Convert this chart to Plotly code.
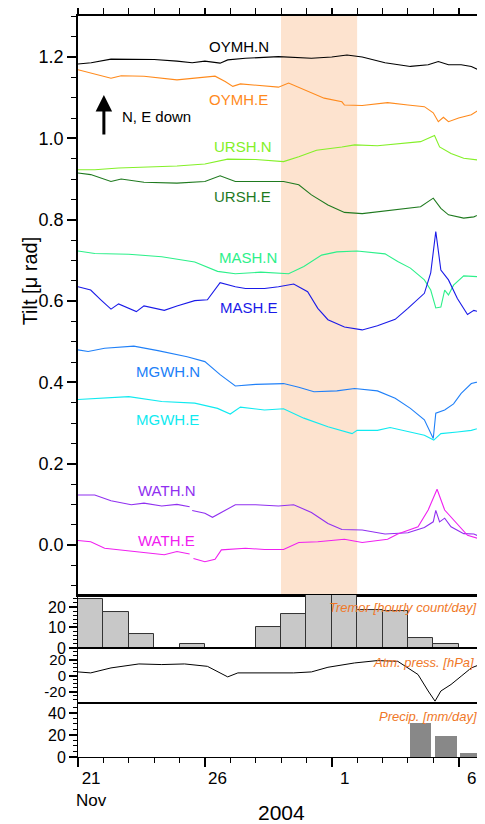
import plotly.graph_objects as go

# ---------------- data (x = days since 21 Nov 2004 00:00) ----------------
oymh_n_t = [0, 0.52, 1.3, 2, 3, 3.9, 4.5, 5, 5.6, 5.9, 6.6, 7.9, 9.2, 10, 10.6, 11.2, 12.1, 13.1, 13.8, 14.2, 14.6, 15.1, 15.5, 16]
oymh_n_v = [1.183, 1.186, 1.195, 1.194, 1.194, 1.19, 1.186, 1.19, 1.185, 1.193, 1.197, 1.201, 1.197, 1.2, 1.205, 1.2, 1.186, 1.177, 1.181, 1.189, 1.181, 1.181, 1.177, 1.162]

oymh_e_t = [0, 0.4, 0.8, 1.3, 1.7, 2.6, 3.9, 4.6, 5.4, 5.8, 6.1, 6.4, 7.2, 7.9, 8.3, 8.9, 9.7, 10.4, 10.5, 11.2, 12.2, 13, 13.65, 14, 14.2, 14.4, 14.6, 15, 15.5, 15.75, 16]
oymh_e_v = [1.169, 1.163, 1.156, 1.148, 1.154, 1.153, 1.144, 1.148, 1.153, 1.14, 1.128, 1.134, 1.13, 1.126, 1.136, 1.12, 1.099, 1.09, 1.082, 1.081, 1.088, 1.082, 1.078, 1.063, 1.041, 1.052, 1.041, 1.05, 1.058, 1.068, 1.069]

ursh_n_t = [0, 0.66, 1.6, 2.6, 3.9, 5, 5.9, 7, 8.1, 8.7, 9.4, 10.4, 10.9, 11.8, 12.6, 13.5, 14.05, 14.25, 14.7, 15.2, 16]
ursh_n_v = [0.923, 0.923, 0.927, 0.929, 0.932, 0.937, 0.949, 0.948, 0.943, 0.955, 0.971, 0.979, 0.984, 0.982, 0.986, 0.992, 1.007, 0.979, 0.963, 0.951, 0.945]

ursh_e_t = [0, 0.5, 1.3, 1.7, 2.6, 3.9, 5, 5.6, 6.2, 7.3, 8.1, 8.7, 9.2, 9.85, 10.5, 11.2, 12.5, 13.5, 14, 14.3, 14.6, 15.2, 15.6, 16]
ursh_e_v = [0.915, 0.911, 0.894, 0.9, 0.892, 0.89, 0.894, 0.908, 0.894, 0.894, 0.894, 0.886, 0.861, 0.836, 0.818, 0.815, 0.825, 0.832, 0.853, 0.828, 0.812, 0.804, 0.807, 0.818]

mash_n_t = [0, 0.66, 2, 3.3, 4.6, 5.5, 6.2, 7.2, 8.3, 8.9, 9.6, 10.2, 11, 12.1, 12.6, 13.1, 13.65, 13.9, 14.1, 14.3, 14.45, 14.6, 14.8, 15.2, 16]
mash_n_v = [0.723, 0.717, 0.715, 0.709, 0.696, 0.673, 0.667, 0.671, 0.667, 0.685, 0.713, 0.721, 0.723, 0.716, 0.697, 0.681, 0.652, 0.627, 0.583, 0.585, 0.627, 0.615, 0.639, 0.662, 0.659]

mash_e_t = [0, 0.5, 0.9, 1.3, 1.6, 2.3, 2.6, 3.4, 3.9, 4.6, 5.1, 5.6, 6.2, 6.6, 7.35, 7.9, 8.5, 9.05, 9.45, 9.85, 10.5, 11.2, 11.8, 12.5, 13, 13.65, 13.9, 14.1, 14.3, 14.6, 14.95, 15.35, 15.6, 16]
mash_e_v = [0.635, 0.627, 0.603, 0.58, 0.593, 0.574, 0.588, 0.577, 0.588, 0.601, 0.603, 0.645, 0.635, 0.631, 0.631, 0.635, 0.642, 0.623, 0.582, 0.554, 0.536, 0.529, 0.539, 0.555, 0.582, 0.619, 0.669, 0.771, 0.676, 0.652, 0.606, 0.567, 0.577, 0.57]

mgwh_n_t = [0, 0.4, 1.05, 2.2, 3.15, 4.3, 5, 5.6, 6.2, 7, 8.1, 8.7, 9.3, 10.2, 10.9, 11.8, 12.5, 13.1, 13.65, 14, 14.1, 14.45, 14.8, 15.1, 15.5, 16]
mgwh_n_v = [0.48, 0.476, 0.484, 0.489, 0.478, 0.463, 0.451, 0.419, 0.391, 0.395, 0.397, 0.388, 0.377, 0.379, 0.385, 0.379, 0.361, 0.336, 0.308, 0.262, 0.324, 0.332, 0.347, 0.373, 0.397, 0.405]

mgwh_e_t = [0, 0.66, 2, 3.3, 4.6, 5.5, 6, 6.4, 7.35, 8.1, 8.9, 9.85, 10.8, 11, 11.8, 12.3, 13.1, 13.65, 14.02, 14.3, 14.95, 15.5, 16]
mgwh_e_v = [0.358, 0.36, 0.365, 0.353, 0.349, 0.336, 0.322, 0.339, 0.332, 0.335, 0.312, 0.291, 0.274, 0.282, 0.282, 0.289, 0.278, 0.27, 0.258, 0.274, 0.278, 0.282, 0.291]

# None marks the data gap
wath_n_t = [0, 0.66, 1.3, 2.1, 2.6, 3.3, 3.9, 4.4, 4.45, 4.5, 5, 5.3, 5.65, 6.2, 7, 7.9, 8.5, 9.2, 9.85, 10.4, 11.2, 12.1, 13, 13.65, 14, 14.1, 14.25, 14.45, 14.7, 15.2, 15.6, 16]
wath_n_v = [0.123, 0.123, 0.109, 0.099, 0.103, 0.096, 0.1, 0.094, None, 0.085, 0.078, 0.068, 0.08, 0.099, 0.099, 0.096, 0.099, 0.08, 0.053, 0.038, 0.037, 0.027, 0.03, 0.043, 0.057, 0.085, 0.057, 0.066, 0.045, 0.028, 0.027, 0.016]

wath_e_t = [0, 0.5, 1.05, 1.7, 2.6, 3.4, 3.9, 4.4, 4.5, 4.55, 5, 5.4, 5.65, 6.6, 7.35, 8.1, 8.7, 9.45, 10.5, 11.2, 12.2, 12.6, 13.4, 13.8, 14.15, 14.45, 14.8, 15.35, 16]
wath_e_v = [0.011, 0.008, -0.008, -0.012, -0.019, -0.024, -0.016, -0.022, None, -0.033, -0.041, -0.035, -0.012, -0.008, -0.011, -0.011, 0.006, 0.008, 0.014, 0.006, 0.014, 0.027, 0.045, 0.086, 0.137, 0.086, 0.062, 0.024, 0.012]

tremor_day = list(range(16))
tremor_cnt = [23.7, 17.4, 6.8, 0, 1.8, 0, 0, 10.1, 16.4, 30, 28, 18.4, 17.9, 4.7, 1.8, 0]

press_t = [0, 0.5, 1.3, 2.4, 3.3, 4.2, 5.1, 5.5, 5.9, 6.3, 7.2, 8.5, 9.2, 9.85, 10.9, 11.8, 12.6, 13.4, 13.8, 14.07, 14.3, 14.7, 15.1, 15.5, 16]
press_v = [5, 3.75, 10, 15, 14.2, 15, 12, 5.8, -1.25, 3.75, 3.75, 3.75, 5, 10.8, 16.25, 19.2, 18.3, 1.7, -19, -31.7, -19, -10.8, -0.4, 10, 16.25]

precip_day = [13, 14, 15]
precip_mm = [31, 19, 3.6]

series = [
    ("OYMH.N", oymh_n_t, oymh_n_v, "#000000", 5.08, 1.226),
    ("OYMH.E", oymh_e_t, oymh_e_v, "#ff8a1c", 5.08, 1.095),
    ("URSH.N", ursh_n_t, ursh_n_v, "#84f028", 5.28, 0.980),
    ("URSH.E", ursh_e_t, ursh_e_v, "#1f7a1f", 5.28, 0.856),
    ("MASH.N", mash_n_t, mash_n_v, "#2cf08a", 5.47, 0.708),
    ("MASH.E", mash_e_t, mash_e_v, "#1a1ae8", 5.51, 0.585),
    ("MGWH.N", mgwh_n_t, mgwh_n_v, "#2080f8", 2.2, 0.426),
    ("MGWH.E", mgwh_e_t, mgwh_e_v, "#10eaf0", 2.2, 0.308),
    ("WATH.N", wath_n_t, wath_n_v, "#9030f0", 2.28, 0.133),
    ("WATH.E", wath_e_t, wath_e_v, "#f020f0", 2.28, 0.012),
]

FONT = "Liberation Sans, Arial, sans-serif"
fig = go.Figure()

for name, t, v, c, lx, ly in series:
    fig.add_trace(go.Scatter(x=t, y=v, mode="lines", line=dict(color=c, width=1.1),
                             xaxis="x", yaxis="y", showlegend=False, connectgaps=False))
    fig.add_annotation(x=lx, y=ly, xref="x", yref="y", text=name, showarrow=False,
                       xanchor="left", yanchor="middle", font=dict(size=15, color=c, family=FONT))

fig.add_trace(go.Bar(x=[d + 0.5 for d in tremor_day], y=tremor_cnt, width=1,
                     marker=dict(color="#c8c8c8", line=dict(color="#333333", width=1)),
                     xaxis="x2", yaxis="y2", showlegend=False))
fig.add_trace(go.Scatter(x=press_t, y=press_v, mode="lines", line=dict(color="#000000", width=1),
                         xaxis="x3", yaxis="y3", showlegend=False))
fig.add_trace(go.Bar(x=[d + 0.5 for d in precip_day], y=precip_mm, width=0.86,
                     marker=dict(color="#888888", line=dict(width=0)),
                     xaxis="x4", yaxis="y4", showlegend=False))

# shaded period
fig.add_shape(type="rect", xref="x", yref="y domain", x0=8, x1=11, y0=0, y1=1,
              fillcolor="#fde3cf", line=dict(width=0), layer="below")

d_main = [0.2186, 1.0]
d_trem = [0.1471, 0.2186]
d_pres = [0.0729, 0.1471]
d_prec = [0.0, 0.0729]

xcommon = dict(range=[0, 16], showgrid=False, zeroline=False, showline=True, mirror=True,
               linecolor="black", showticklabels=False)
ycommon = dict(showgrid=False, zeroline=False, showline=True, mirror=True, linecolor="black",
               automargin=False)
fig.update_layout(
    width=477, height=816, plot_bgcolor="white", paper_bgcolor="white",
    margin=dict(l=70, r=1, t=8, b=67, autoexpand=False), bargap=0,
    font=dict(family=FONT, color="black"),
    xaxis=dict(**xcommon, anchor="y", side="top", linewidth=1.5,
               tickvals=[0, 5, 10, 15], ticks="outside", ticklen=11, tickwidth=1.5, tickcolor="black",
               minor=dict(dtick=1, tick0=0, ticks="outside", ticklen=6, tickwidth=1.2, tickcolor="black")),
    xaxis2=dict(**xcommon, anchor="y2", matches="x", linewidth=1),
    xaxis3=dict(**xcommon, anchor="y3", matches="x", linewidth=1),
    xaxis4=dict(**xcommon, anchor="y4", matches="x", linewidth=1, side="bottom",
                tickvals=[0, 5, 10, 15], ticks="outside", ticklen=9, tickwidth=1.5, tickcolor="black",
                minor=dict(dtick=1, tick0=0, ticks="outside", ticklen=5, tickwidth=1.2, tickcolor="black")),
    yaxis=dict(**ycommon, domain=d_main, range=[-0.123, 1.301], anchor="x", linewidth=1.5,
               tickvals=[0, 0.2, 0.4, 0.6, 0.8, 1.0, 1.2], tickformat=".1f",
               ticks="outside", ticklen=9, tickwidth=1.5, tickcolor="black",
               tickfont=dict(size=18, family=FONT),
               minor=dict(dtick=0.05, tick0=0, ticks="outside", ticklen=5, tickwidth=1.2, tickcolor="black")),
    yaxis2=dict(**ycommon, domain=d_trem, range=[0, 25.8], anchor="x2", linewidth=1,
                tickvals=[0, 10, 20], ticktext=["0", "10", "20"],
                ticks="outside", ticklen=8, tickwidth=1.5, tickcolor="black",
                tickfont=dict(size=16, family=FONT),
                minor=dict(dtick=2, tick0=0, ticks="outside", ticklen=4, tickwidth=1, tickcolor="black")),
    yaxis3=dict(**ycommon, domain=d_pres, range=[-34, 35], anchor="x3", linewidth=1,
                tickvals=[-20, 0, 20], ticktext=["-20", "0", "20"],
                ticks="outside", ticklen=8, tickwidth=1.5, tickcolor="black",
                tickfont=dict(size=15, family=FONT),
                minor=dict(dtick=5, tick0=0, ticks="outside", ticklen=4, tickwidth=1, tickcolor="black")),
    yaxis4=dict(**ycommon, domain=d_prec, range=[0, 49], anchor="x4", linewidth=1,
                tickvals=[0, 20, 40], ticktext=["0", "20", "40"],
                ticks="outside", ticklen=8, tickwidth=1.5, tickcolor="black",
                tickfont=dict(size=16, family=FONT),
                minor=dict(dtick=5, tick0=0, ticks="outside", ticklen=4, tickwidth=1, tickcolor="black")),
)

# arrow + note
fig.add_annotation(x=1.02, y=1.107, xref="x", yref="y", ax=0, ay=41, axref="pixel", ayref="pixel",
                   text="", showarrow=True, arrowhead=2, arrowsize=1.1, arrowwidth=3, arrowcolor="black")
fig.add_annotation(x=1.65, y=1.055, xref="x", yref="y", text="N, E down", showarrow=False,
                   xanchor="left", yanchor="middle", font=dict(size=15, family=FONT, color="black"))

# y title
fig.add_annotation(x=-0.118, y=0.642, xref="paper", yref="paper", text="Tilt [μ rad]", textangle=-90,
                   showarrow=False, xanchor="center", yanchor="middle", font=dict(size=20, family=FONT))

# panel labels
plab = dict(showarrow=False, xref="paper", yref="paper", xanchor="right", yanchor="middle",
            font=dict(size=13, family=FONT, color="#f07828"))
fig.add_annotation(x=0.988, y=0.2024, text="<i>Tremor [hourly count/day]</i>", **plab)
fig.add_annotation(x=0.98, y=0.128, text="<i>Atm. press. [hPa]</i>", **plab)
fig.add_annotation(x=0.988, y=0.054, text="<i>Precip. [mm/day]</i>", **plab)

# x tick labels at day centres
xlab = dict(showarrow=False, xref="x4", yref="paper", yanchor="top", font=dict(size=17, family=FONT))
fig.add_annotation(x=0.55, y=-0.013, text="21<br>Nov", align="center", **xlab)
fig.add_annotation(x=5.5, y=-0.013, text="26", **xlab)
fig.add_annotation(x=10.5, y=-0.013, text="1", **xlab)
fig.add_annotation(x=15.5, y=-0.013, text="6", **xlab)
fig.add_annotation(x=0.502, y=-0.0745, xref="paper", yref="paper", text="2004", showarrow=False,
                   yanchor="middle", font=dict(size=21, family=FONT))

fig.write_html("out.html")
